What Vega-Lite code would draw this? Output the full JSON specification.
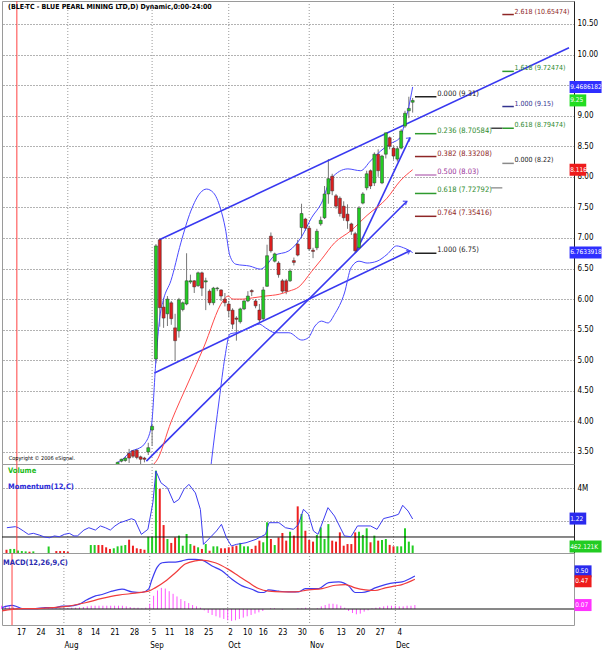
{
"$schema":"https://vega.github.io/schema/vega-lite/v6.json",
"padding":0,"background":"white","spacing":0,"bounds":"flush",
"resolve":{"scale":{"color":"independent"}},
"config":{"view":{"stroke":"#9a9a9a","strokeWidth":1},"axis":{"title":null},"font":"Liberation Sans Narrow, DejaVu Sans Condensed, Liberation Sans, sans-serif"},
"datasets":{
"days":[
{"date":"2006-07-10","i":-5,"v":200000,"up":false,"hist":0.05},
{"date":"2006-07-11","i":-4,"v":250000,"up":true,"hist":0.05},
{"date":"2006-07-12","i":-3,"v":250000,"up":true,"hist":0.04},
{"date":"2006-07-13","i":-2,"v":150000,"up":true,"hist":0.03},
{"date":"2006-07-14","i":-1,"v":120000,"up":true,"hist":0.02},
{"date":"2006-07-17","i":0,"v":100000,"up":true,"hist":0.01},
{"date":"2006-07-18","i":1,"v":80000,"up":false,"hist":0.005},
{"date":"2006-07-19","i":2,"v":100000,"up":true,"hist":0.005},
{"date":"2006-07-20","i":3,"up":true,"hist":0.005},
{"date":"2006-07-21","i":4,"up":true,"hist":0.005},
{"date":"2006-07-24","i":5,"up":true,"hist":0.005},
{"date":"2006-07-25","i":6,"v":400000,"up":true,"hist":0.01},
{"date":"2006-07-26","i":7,"up":true,"hist":0.01},
{"date":"2006-07-27","i":8,"v":120000,"up":false,"hist":0.01},
{"date":"2006-07-28","i":9,"v":120000,"up":false,"hist":0.01},
{"date":"2006-07-31","i":10,"v":120000,"up":false,"hist":0.01},
{"date":"2006-08-01","i":11,"v":80000,"up":false,"hist":0.015},
{"date":"2006-08-02","i":12,"up":true,"hist":0.015},
{"date":"2006-08-03","i":13,"up":true,"hist":0.02},
{"date":"2006-08-04","i":14,"up":true,"hist":0.02},
{"date":"2006-08-08","i":15,"up":true,"hist":0.025},
{"date":"2006-08-09","i":16,"up":true,"hist":0.03},
{"date":"2006-08-10","i":17,"v":490000,"up":true,"hist":0.04},
{"date":"2006-08-11","i":18,"v":490000,"up":true,"hist":0.05},
{"date":"2006-08-14","i":19,"v":490000,"up":false,"hist":0.05},
{"date":"2006-08-15","i":20,"v":490000,"up":false,"hist":0.05},
{"date":"2006-08-16","i":21,"v":350000,"up":false,"hist":0.05},
{"date":"2006-08-17","i":22,"v":250000,"up":false,"hist":0.05},
{"date":"2006-08-18","i":23,"v":290000,"up":true,"hist":0.05},
{"date":"2006-08-21","i":24,"o":3.28,"h":3.34,"l":3.25,"c":3.33,"v":410000,"up":true,"hist":0.05},
{"date":"2006-08-22","i":25,"o":3.35,"h":3.39,"l":3.33,"c":3.38,"v":450000,"up":true,"hist":0.05},
{"date":"2006-08-23","i":26,"o":3.36,"h":3.42,"l":3.34,"c":3.40,"v":490000,"up":true,"hist":0.05},
{"date":"2006-08-24","i":27,"o":3.48,"h":3.55,"l":3.32,"c":3.40,"v":820000,"up":false,"hist":0.04},
{"date":"2006-08-25","i":28,"o":3.52,"h":3.53,"l":3.40,"c":3.43,"v":450000,"up":false,"hist":0.03},
{"date":"2006-08-28","i":29,"o":3.53,"h":3.55,"l":3.38,"c":3.41,"v":290000,"up":false,"hist":0.02},
{"date":"2006-08-29","i":30,"o":3.42,"h":3.44,"l":3.30,"c":3.38,"v":250000,"up":false,"hist":0.02},
{"date":"2006-08-30","i":31,"o":3.40,"h":3.42,"l":3.33,"c":3.38,"v":200000,"up":false,"hist":0.01},
{"date":"2006-08-31","i":32,"o":3.50,"h":3.65,"l":3.45,"c":3.57,"v":1000000,"up":true,"hist":0.02},
{"date":"2006-09-01","i":33,"o":3.86,"h":3.95,"l":3.60,"c":3.92,"v":1000000,"up":true,"hist":0.08},
{"date":"2006-09-05","i":34,"o":5.02,"h":6.90,"l":4.95,"c":6.87,"v":5070000,"up":true,"hist":0.2},
{"date":"2006-09-06","i":35,"o":6.97,"h":6.99,"l":5.55,"c":5.86,"v":3940000,"up":false,"hist":0.28},
{"date":"2006-09-07","i":36,"o":5.87,"h":6.02,"l":5.53,"c":5.69,"v":1720000,"up":false,"hist":0.32},
{"date":"2006-09-08","i":37,"o":5.76,"h":6.05,"l":5.56,"c":6.00,"v":860000,"up":true,"hist":0.31},
{"date":"2006-09-11","i":38,"o":5.94,"h":5.97,"l":5.58,"c":5.68,"v":620000,"up":false,"hist":0.27},
{"date":"2006-09-12","i":39,"o":5.53,"h":5.76,"l":4.99,"c":5.32,"v":960000,"up":false,"hist":0.23},
{"date":"2006-09-13","i":40,"o":5.48,"h":6.02,"l":5.37,"c":5.99,"v":1070000,"up":true,"hist":0.19},
{"date":"2006-09-14","i":41,"o":5.83,"h":5.96,"l":5.80,"c":5.94,"v":450000,"up":true,"hist":0.15},
{"date":"2006-09-15","i":42,"o":5.92,"h":6.75,"l":5.90,"c":6.30,"v":1170000,"up":true,"hist":0.12},
{"date":"2006-09-18","i":43,"o":6.28,"h":6.40,"l":6.25,"c":6.30,"v":550000,"up":true,"hist":0.09},
{"date":"2006-09-19","i":44,"o":6.30,"h":6.31,"l":6.10,"c":6.20,"v":450000,"up":false,"hist":0.06},
{"date":"2006-09-20","i":45,"o":6.22,"h":6.45,"l":6.20,"c":6.43,"v":350000,"up":true,"hist":0.04},
{"date":"2006-09-21","i":46,"o":6.43,"h":6.45,"l":6.05,"c":6.18,"v":250000,"up":false,"hist":0.02},
{"date":"2006-09-22","i":47,"o":6.28,"h":6.35,"l":5.82,"c":6.30,"v":550000,"up":true,"hist":-0.02},
{"date":"2006-09-25","i":48,"o":6.13,"h":6.16,"l":5.90,"c":5.94,"v":140000,"up":false,"hist":-0.06},
{"date":"2006-09-26","i":49,"o":5.94,"h":6.20,"l":5.90,"c":6.18,"v":410000,"up":true,"hist":-0.09},
{"date":"2006-09-27","i":50,"o":6.17,"h":6.20,"l":6.13,"c":6.18,"v":410000,"up":true,"hist":-0.11},
{"date":"2006-09-28","i":51,"o":6.15,"h":6.16,"l":5.97,"c":6.05,"v":290000,"up":false,"hist":-0.13},
{"date":"2006-09-29","i":52,"o":6.00,"h":6.10,"l":5.88,"c":5.94,"v":290000,"up":false,"hist":-0.15},
{"date":"2006-10-02","i":53,"o":5.92,"h":5.97,"l":5.70,"c":5.81,"v":350000,"up":false,"hist":-0.17},
{"date":"2006-10-03","i":54,"o":5.82,"h":5.85,"l":5.51,"c":5.59,"v":410000,"up":false,"hist":-0.18},
{"date":"2006-10-04","i":55,"o":5.69,"h":5.72,"l":5.32,"c":5.67,"v":450000,"up":false,"hist":-0.17},
{"date":"2006-10-05","i":56,"o":5.63,"h":5.86,"l":5.60,"c":5.84,"v":620000,"up":true,"hist":-0.15},
{"date":"2006-10-06","i":57,"o":5.84,"h":5.98,"l":5.82,"c":5.97,"v":410000,"up":true,"hist":-0.13},
{"date":"2006-10-10","i":58,"o":5.97,"h":6.13,"l":5.95,"c":6.05,"v":410000,"up":true,"hist":-0.11},
{"date":"2006-10-11","i":59,"o":6.14,"h":6.16,"l":6.05,"c":6.12,"v":250000,"up":false,"hist":-0.09},
{"date":"2006-10-12","i":60,"o":5.97,"h":6.00,"l":5.85,"c":5.89,"v":450000,"up":false,"hist":-0.07},
{"date":"2006-10-13","i":61,"o":5.82,"h":5.92,"l":5.60,"c":5.66,"v":760000,"up":false,"hist":-0.05},
{"date":"2006-10-16","i":62,"o":5.68,"h":6.20,"l":5.65,"c":6.15,"v":660000,"up":true,"hist":-0.03},
{"date":"2006-10-17","i":63,"o":6.21,"h":6.89,"l":6.20,"c":6.71,"v":1890000,"up":true,"hist":0.0},
{"date":"2006-10-18","i":64,"o":7.03,"h":7.09,"l":6.76,"c":6.79,"v":860000,"up":false,"hist":0.01},
{"date":"2006-10-19","i":65,"o":6.62,"h":6.76,"l":6.60,"c":6.74,"v":490000,"up":true,"hist":0.01},
{"date":"2006-10-20","i":66,"o":6.59,"h":6.62,"l":6.35,"c":6.40,"v":960000,"up":false,"hist":0.0},
{"date":"2006-10-23","i":67,"o":6.30,"h":6.33,"l":6.10,"c":6.13,"v":1230000,"up":false,"hist":-0.01},
{"date":"2006-10-24","i":68,"o":6.30,"h":6.33,"l":6.08,"c":6.13,"v":760000,"up":false,"hist":0.0},
{"date":"2006-10-25","i":69,"o":6.30,"h":6.50,"l":6.28,"c":6.46,"v":1310000,"up":true,"hist":0.0},
{"date":"2006-10-26","i":70,"o":6.63,"h":6.68,"l":6.55,"c":6.60,"v":1070000,"up":false,"hist":0.0},
{"date":"2006-10-27","i":71,"o":6.90,"h":6.97,"l":6.70,"c":6.72,"v":2870000,"up":false,"hist":0.01},
{"date":"2006-10-30","i":72,"o":7.17,"h":7.56,"l":7.00,"c":7.40,"v":2400000,"up":true,"hist":0.01},
{"date":"2006-10-31","i":73,"o":7.31,"h":7.33,"l":7.12,"c":7.16,"v":1370000,"up":false,"hist":0.02},
{"date":"2006-11-01","i":74,"o":7.16,"h":7.20,"l":6.79,"c":6.82,"v":800000,"up":false,"hist":0.01},
{"date":"2006-11-02","i":75,"o":6.80,"h":6.84,"l":6.67,"c":6.78,"v":700000,"up":false,"hist":0.0},
{"date":"2006-11-03","i":76,"o":6.84,"h":7.15,"l":6.80,"c":7.11,"v":1110000,"up":true,"hist":0.01},
{"date":"2006-11-06","i":77,"o":7.23,"h":7.35,"l":7.20,"c":7.29,"v":1580000,"up":true,"hist":0.04},
{"date":"2006-11-07","i":78,"o":7.33,"h":7.85,"l":7.31,"c":7.72,"v":860000,"up":true,"hist":0.06},
{"date":"2006-11-08","i":79,"o":7.72,"h":8.29,"l":7.56,"c":7.97,"v":1780000,"up":true,"hist":0.08},
{"date":"2006-11-09","i":80,"o":8.01,"h":8.05,"l":7.70,"c":7.77,"v":760000,"up":false,"hist":0.08},
{"date":"2006-11-10","i":81,"o":7.69,"h":7.72,"l":7.48,"c":7.52,"v":700000,"up":false,"hist":0.07},
{"date":"2006-11-13","i":82,"o":7.65,"h":7.68,"l":7.35,"c":7.40,"v":1270000,"up":false,"hist":0.05},
{"date":"2006-11-14","i":83,"o":7.52,"h":7.60,"l":7.28,"c":7.33,"v":450000,"up":false,"hist":0.02},
{"date":"2006-11-15","i":84,"o":7.39,"h":7.55,"l":7.15,"c":7.28,"v":550000,"up":false,"hist":-0.03},
{"date":"2006-11-16","i":85,"o":7.23,"h":7.25,"l":7.05,"c":7.11,"v":550000,"up":false,"hist":-0.06},
{"date":"2006-11-17","i":86,"o":7.07,"h":7.10,"l":6.75,"c":6.79,"v":1270000,"up":false,"hist":-0.08},
{"date":"2006-11-20","i":87,"o":6.84,"h":7.52,"l":6.82,"c":7.49,"v":1310000,"up":true,"hist":-0.07},
{"date":"2006-11-21","i":88,"o":7.57,"h":7.75,"l":7.55,"c":7.72,"v":1110000,"up":true,"hist":-0.04},
{"date":"2006-11-22","i":89,"o":7.82,"h":8.10,"l":7.78,"c":8.05,"v":1520000,"up":true,"hist":-0.02},
{"date":"2006-11-23","i":90,"o":8.10,"h":8.12,"l":7.80,"c":7.85,"v":660000,"up":false,"hist":0.01},
{"date":"2006-11-24","i":91,"o":7.90,"h":8.40,"l":7.85,"c":8.37,"v":1070000,"up":true,"hist":0.02},
{"date":"2006-11-27","i":92,"o":8.37,"h":8.45,"l":8.00,"c":8.10,"v":760000,"up":false,"hist":0.03},
{"date":"2006-11-28","i":93,"o":7.90,"h":8.36,"l":7.88,"c":8.34,"v":800000,"up":true,"hist":0.04},
{"date":"2006-11-29","i":94,"o":8.37,"h":8.72,"l":8.30,"c":8.72,"v":860000,"up":true,"hist":0.05},
{"date":"2006-11-30","i":95,"o":8.64,"h":8.66,"l":8.45,"c":8.50,"v":500000,"up":false,"hist":0.05},
{"date":"2006-12-01","i":96,"o":8.47,"h":8.50,"l":8.28,"c":8.34,"v":410000,"up":false,"hist":0.05},
{"date":"2006-12-04","i":97,"o":8.29,"h":8.50,"l":8.25,"c":8.46,"v":410000,"up":true,"hist":0.04},
{"date":"2006-12-05","i":98,"o":8.47,"h":8.78,"l":8.45,"c":8.75,"v":410000,"up":true,"hist":0.04},
{"date":"2006-12-06","i":99,"o":8.83,"h":9.08,"l":8.80,"c":9.04,"v":1520000,"up":true,"hist":0.05},
{"date":"2006-12-07","i":100,"o":9.08,"h":9.31,"l":8.96,"c":9.12,"v":700000,"up":true,"hist":0.05},
{"date":"2006-12-08","i":101,"o":9.22,"h":9.29,"l":9.05,"c":9.25,"v":462121,"up":true,"hist":0.06}
],
"bands":[
{"band":"upper","i":24,"p":3.33},{"band":"upper","i":25.1,"p":3.37},{"band":"upper","i":27.7,"p":3.52},{"band":"upper","i":29.2,"p":3.55},{"band":"upper","i":31.0,"p":3.63},{"band":"upper","i":32.8,"p":3.92},{"band":"upper","i":34,"p":5.0},{"band":"upper","i":35,"p":5.7},{"band":"upper","i":36,"p":6.0},{"band":"upper","i":37.9,"p":6.3},{"band":"upper","i":40.5,"p":6.92},{"band":"upper","i":43.1,"p":7.44},{"band":"upper","i":45.6,"p":7.74},{"band":"upper","i":47.2,"p":7.80},{"band":"upper","i":49.0,"p":7.74},{"band":"upper","i":50.8,"p":7.49},{"band":"upper","i":52.1,"p":7.16},{"band":"upper","i":53.3,"p":6.71},{"band":"upper","i":54.9,"p":6.57},{"band":"upper","i":58.5,"p":6.54},{"band":"upper","i":61.3,"p":6.49},{"band":"upper","i":62.6,"p":6.54},{"band":"upper","i":64.9,"p":6.71},{"band":"upper","i":68.7,"p":6.79},{"band":"upper","i":72.1,"p":7.03},{"band":"upper","i":74.6,"p":7.33},{"band":"upper","i":77.2,"p":7.57},{"band":"upper","i":79.7,"p":7.97},{"band":"upper","i":84.1,"p":8.13},{"band":"upper","i":87.4,"p":8.10},{"band":"upper","i":90.0,"p":8.26},{"band":"upper","i":92.6,"p":8.42},{"band":"upper","i":95.1,"p":8.54},{"band":"upper","i":97.7,"p":8.64},{"band":"upper","i":99,"p":8.90},{"band":"upper","i":100,"p":9.15},{"band":"upper","i":101,"p":9.47},
{"band":"lower","i":30,"p":3.15},{"band":"lower","i":33,"p":3.2},{"band":"lower","i":35,"p":2.4},{"band":"lower","i":40,"p":1.6},{"band":"lower","i":45,"p":1.4},{"band":"lower","i":47,"p":2.5},{"band":"lower","i":48.5,"p":3.35},{"band":"lower","i":50.5,"p":4.35},{"band":"lower","i":52,"p":5.05},{"band":"lower","i":53.3,"p":5.43},{"band":"lower","i":54.9,"p":5.45},{"band":"lower","i":58.5,"p":5.53},{"band":"lower","i":61.0,"p":5.59},{"band":"lower","i":62.6,"p":5.53},{"band":"lower","i":65.1,"p":5.45},{"band":"lower","i":68.7,"p":5.45},{"band":"lower","i":72.1,"p":5.33},{"band":"lower","i":73.8,"p":5.37},{"band":"lower","i":75.5,"p":5.56},{"band":"lower","i":77.2,"p":5.64},{"band":"lower","i":78.9,"p":5.61},{"band":"lower","i":80.6,"p":5.75},{"band":"lower","i":83.2,"p":6.1},{"band":"lower","i":84.9,"p":6.51},{"band":"lower","i":87.0,"p":6.62},{"band":"lower","i":89.1,"p":6.59},{"band":"lower","i":91.7,"p":6.62},{"band":"lower","i":94.3,"p":6.73},{"band":"lower","i":96.8,"p":6.87},{"band":"lower","i":98.6,"p":6.84},{"band":"lower","i":100.3,"p":6.79},{"band":"lower","i":101,"p":6.76},
{"band":"ma","i":28,"p":3.1},{"band":"ma","i":34.1,"p":3.35},{"band":"ma","i":38,"p":4.0},{"band":"ma","i":42.6,"p":4.66},{"band":"ma","i":46.4,"p":5.20},{"band":"ma","i":51.5,"p":5.97},{"band":"ma","i":52.8,"p":6.05},{"band":"ma","i":54.1,"p":6.00},{"band":"ma","i":56.7,"p":6.00},{"band":"ma","i":59.2,"p":6.02},{"band":"ma","i":62.6,"p":6.05},{"band":"ma","i":66.2,"p":6.08},{"band":"ma","i":68.7,"p":6.13},{"band":"ma","i":71.3,"p":6.2},{"band":"ma","i":74.6,"p":6.45},{"band":"ma","i":77.2,"p":6.65},{"band":"ma","i":80.6,"p":6.92},{"band":"ma","i":84.9,"p":7.12},{"band":"ma","i":89.1,"p":7.37},{"band":"ma","i":94.3,"p":7.65},{"band":"ma","i":97.7,"p":7.93},{"band":"ma","i":101,"p":8.116}
],
"trend":[
{"line":"channelTop","pt":"start","i":34.9,"p":6.97},{"line":"channelTop","pt":"edge","i":141.8,"p":10.11},
{"line":"channelBottom","pt":"start","i":33.6,"p":4.79},{"line":"channelBottom","pt":"end","i":100.3,"p":6.79},
{"line":"fan","pt":"start","i":31.5,"p":3.35},{"line":"fan","pt":"end","i":99.5,"p":7.60},
{"line":"steep","pt":"start","i":86.2,"p":6.77},{"line":"steep","pt":"end","i":100.3,"p":8.64}
],
"fib":[
{"set":"L","key":"black","p":9.31,"label":"0.000 (9.31)"},
{"set":"L","key":"green","p":8.70584,"label":"0.236 (8.70584)"},
{"set":"L","key":"darkred","p":8.33208,"label":"0.382 (8.33208)"},
{"set":"L","key":"purple","p":8.03,"label":"0.500 (8.03)"},
{"set":"L","key":"green","p":7.72792,"label":"0.618 (7.72792)"},
{"set":"L","key":"darkred","p":7.35416,"label":"0.764 (7.35416)"},
{"set":"L","key":"black","p":6.75,"label":"1.000 (6.75)"},
{"set":"R","key":"darkred","p":10.65474,"label":"2.618 (10.65474)"},
{"set":"R","key":"green","p":9.72474,"label":"1.618 (9.72474)"},
{"set":"R","key":"navy","p":9.15,"label":"1.000 (9.15)"},
{"set":"R","key":"green","p":8.79474,"label":"0.618 (8.79474)"},
{"set":"R","key":"gray","p":8.22,"label":"0.000 (8.22)"},
{"set":"M","key":"black","p":8.79474,"label":""},
{"set":"M","key":"gray","p":7.82,"label":""}
],
"mom":[
{"i":-4.9,"m":0.63},{"i":-2.7,"m":0.70},{"i":-1.9,"m":0.63},{"i":-0.6,"m":0.41},{"i":0.7,"m":0.18},{"i":2.0,"m":0.25},{"i":3.7,"m":0.12},{"i":4.9,"m":0.0},{"i":6.2,"m":-0.05},{"i":7.5,"m":0.07},{"i":8.8,"m":0.02},{"i":10.1,"m":0.18},{"i":11.4,"m":0.25},{"i":12.6,"m":0.07},{"i":13.5,"m":0.07},{"i":15.2,"m":0.47},{"i":16.5,"m":0.63},{"i":18.2,"m":0.47},{"i":19.5,"m":0.75},{"i":20.8,"m":0.63},{"i":22.1,"m":0.47},{"i":23.3,"m":0.75},{"i":24.6,"m":0.97},{"i":25.9,"m":1.08},{"i":27.6,"m":1.24},{"i":28.5,"m":1.15},{"i":30.2,"m":0.18},{"i":31.9,"m":0.52},{"i":33.2,"m":2.32},{"i":34.0,"m":4.47},{"i":35.3,"m":3.68},{"i":37.0,"m":3.34},{"i":38.7,"m":2.32},{"i":40.0,"m":2.55},{"i":41.3,"m":3.23},{"i":42.6,"m":3.57},{"i":44.3,"m":2.99},{"i":45.6,"m":1.87},{"i":46.4,"m":-0.5},{"i":48.1,"m":-0.05},{"i":49.8,"m":0.41},{"i":51.1,"m":0.86},{"i":52.4,"m":-0.05},{"i":53.7,"m":-0.61},{"i":55.0,"m":-0.5},{"i":57.5,"m":-0.39},{"i":60.1,"m":-0.16},{"i":62.6,"m":0.18},{"i":63.5,"m":0.97},{"i":66.1,"m":0.97},{"i":67.8,"m":0.63},{"i":69.9,"m":0.52},{"i":71.2,"m":0.86},{"i":72.5,"m":1.88},{"i":73.8,"m":1.54},{"i":75.1,"m":0.41},{"i":76.3,"m":0.18},{"i":78.9,"m":1.99},{"i":80.6,"m":1.42},{"i":83.2,"m":0.07},{"i":84.9,"m":0.02},{"i":86.6,"m":0.75},{"i":88.3,"m":0.75},{"i":90.0,"m":0.75},{"i":91.7,"m":0.52},{"i":93.4,"m":1.25},{"i":96.0,"m":1.42},{"i":97.3,"m":1.54},{"i":98.4,"m":2.15},{"i":99.8,"m":1.76},{"i":101,"m":1.22}
],
"macd":[
{"s":"macd","i":-4.9,"v":0.02},{"s":"macd","i":-3.6,"v":0.045},{"s":"macd","i":-2.3,"v":0.056},{"s":"macd","i":-1.0,"v":0.035},{"s":"macd","i":0.3,"v":0.005},{"s":"macd","i":3.7,"v":0.005},{"s":"macd","i":6.2,"v":0.02},{"s":"macd","i":8.8,"v":0.02},{"s":"macd","i":10.5,"v":0.045},{"s":"macd","i":12.2,"v":0.045},{"s":"macd","i":14.8,"v":0.07},{"s":"macd","i":16.9,"v":0.14},{"s":"macd","i":19.1,"v":0.2},{"s":"macd","i":20.8,"v":0.22},{"s":"macd","i":23.3,"v":0.27},{"s":"macd","i":25.9,"v":0.3},{"s":"macd","i":28.5,"v":0.26},{"s":"macd","i":31.0,"v":0.25},{"s":"macd","i":32.7,"v":0.3},{"s":"macd","i":33.6,"v":0.45},{"s":"macd","i":34.9,"v":0.63},{"s":"macd","i":36.2,"v":0.7},{"s":"macd","i":37.9,"v":0.71},{"s":"macd","i":39.6,"v":0.71},{"s":"macd","i":41.3,"v":0.73},{"s":"macd","i":43.0,"v":0.75},{"s":"macd","i":44.7,"v":0.75},{"s":"macd","i":46.4,"v":0.74},{"s":"macd","i":49.0,"v":0.65},{"s":"macd","i":51.5,"v":0.58},{"s":"macd","i":54.1,"v":0.45},{"s":"macd","i":56.7,"v":0.35},{"s":"macd","i":59.2,"v":0.30},{"s":"macd","i":61.4,"v":0.25},{"s":"macd","i":62.2,"v":0.25},{"s":"macd","i":63.5,"v":0.29},{"s":"macd","i":66.1,"v":0.27},{"s":"macd","i":68.6,"v":0.26},{"s":"macd","i":71.2,"v":0.26},{"s":"macd","i":72.9,"v":0.31},{"s":"macd","i":76.3,"v":0.31},{"s":"macd","i":78.9,"v":0.40},{"s":"macd","i":81.5,"v":0.41},{"s":"macd","i":84.0,"v":0.35},{"s":"macd","i":85.7,"v":0.25},{"s":"macd","i":87.4,"v":0.25},{"s":"macd","i":89.1,"v":0.27},{"s":"macd","i":90.8,"v":0.32},{"s":"macd","i":93.4,"v":0.37},{"s":"macd","i":96.0,"v":0.40},{"s":"macd","i":97.7,"v":0.41},{"s":"macd","i":99.4,"v":0.45},{"s":"macd","i":101,"v":0.50},
{"s":"signal","i":-4.9,"v":-0.03},{"s":"signal","i":-2.3,"v":-0.005},{"s":"signal","i":0.3,"v":0.005},{"s":"signal","i":3.7,"v":0.005},{"s":"signal","i":7.9,"v":0.02},{"s":"signal","i":12.2,"v":0.045},{"s":"signal","i":16.5,"v":0.095},{"s":"signal","i":20.8,"v":0.16},{"s":"signal","i":25.0,"v":0.21},{"s":"signal","i":29.3,"v":0.24},{"s":"signal","i":32.7,"v":0.27},{"s":"signal","i":34.4,"v":0.32},{"s":"signal","i":37.0,"v":0.42},{"s":"signal","i":39.6,"v":0.55},{"s":"signal","i":42.1,"v":0.68},{"s":"signal","i":44.7,"v":0.73},{"s":"signal","i":46.4,"v":0.74},{"s":"signal","i":49.8,"v":0.70},{"s":"signal","i":53.2,"v":0.60},{"s":"signal","i":55.8,"v":0.50},{"s":"signal","i":58.4,"v":0.40},{"s":"signal","i":60.9,"v":0.31},{"s":"signal","i":63.5,"v":0.27},{"s":"signal","i":66.9,"v":0.26},{"s":"signal","i":70.3,"v":0.26},{"s":"signal","i":73.8,"v":0.29},{"s":"signal","i":77.2,"v":0.31},{"s":"signal","i":80.6,"v":0.36},{"s":"signal","i":83.2,"v":0.37},{"s":"signal","i":85.7,"v":0.32},{"s":"signal","i":88.3,"v":0.29},{"s":"signal","i":90.8,"v":0.28},{"s":"signal","i":93.4,"v":0.32},{"s":"signal","i":96.0,"v":0.35},{"s":"signal","i":97.7,"v":0.37},{"s":"signal","i":101,"v":0.45}
],
"months":[{"i":11,"m":"Aug"},{"i":33,"m":"Sep"},{"i":53,"m":"Oct"},{"i":74,"m":"Nov"},{"i":96,"m":"Dec"}],
"ptags":[{"label":"9.4686182","p":9.4686,"k":"upper"},{"label":"9.25","p":9.25,"k":"close"},{"label":"8.116","p":8.116,"k":"ma"},{"label":"6.7633918","p":6.7634,"k":"lower"}],
"vtags":[{"label":"462.121K","v":400000}],
"mtags":[{"label":"1.22","m":1.25}],
"ctags":[{"label":"0.50","v":0.57,"k":"macd"},{"label":"0.47","v":0.42,"k":"signal"},{"label":"0.07","v":0.06,"k":"hist"}]
},
"vconcat":[
{
"width":572,"height":463,
"resolve":{"scale":{"y":"independent","color":"independent"}},
"layer":[
{"data":{"name":"months"},"mark":{"type":"rule","stroke":"#999","strokeDash":[1,2]},
 "encoding":{"x":{"field":"i","type":"quantitative","scale":{"domain":[-4.87,141.8],"nice":false,"zero":false},"axis":null}}},
{"data":{"name":"days"},"transform":[{"filter":"isValid(datum.o)"}],
 "mark":{"type":"rule","stroke":"#777","strokeWidth":1,"clip":true},
 "encoding":{"x":{"field":"i","type":"quantitative","scale":{"domain":[-4.87,141.8],"nice":false,"zero":false},"axis":null},
 "y":{"field":"l","type":"quantitative","scale":{"domain":[3.303,10.876],"nice":false,"zero":false},
  "axis":{"orient":"right","values":[3.5,4,4.5,5,5.5,6,6.5,7,7.5,8,8.5,9,9.5,10,10.5],"labelExpr":"datum.value == 9.5 ? '' : format(datum.value, '.2f')","grid":true,"gridColor":"#666","gridDash":[1,2],"ticks":false,"domainColor":"#222","labelPadding":3,"labelFontSize":8,"labelColor":"#000"}},
 "y2":{"field":"h"}}},
{"data":{"name":"trend"},"mark":{"type":"line","stroke":"#3838f0","strokeWidth":1.6,"clip":true},
 "encoding":{"x":{"field":"i","type":"quantitative","scale":{"domain":[-4.87,141.8],"nice":false,"zero":false},"axis":null},
 "y":{"field":"p","type":"quantitative","scale":{"domain":[3.303,10.876],"nice":false,"zero":false},"axis":null},
 "detail":{"field":"line"}}},
{"data":{"name":"trend"},"transform":[{"filter":"datum.pt == 'end'"}],
 "mark":{"type":"point","shape":"M -1 -0.7 L 0 0 L -1 0.7","filled":false,"stroke":"#3838f0","strokeWidth":1.3,"size":45},
 "encoding":{"x":{"field":"i","type":"quantitative","scale":{"domain":[-4.87,141.8],"nice":false,"zero":false},"axis":null},
 "y":{"field":"p","type":"quantitative","scale":{"domain":[3.303,10.876],"nice":false,"zero":false},"axis":null},
 "angle":{"field":"line","type":"nominal","scale":{"domain":["channelBottom","fan","steep"],"range":[335,316,296]},"legend":null}}},
{"data":{"name":"bands"},"mark":{"type":"line","strokeWidth":1,"interpolate":"monotone","clip":true},
 "encoding":{"x":{"field":"i","type":"quantitative","scale":{"domain":[-4.87,141.8],"nice":false,"zero":false},"axis":null},
 "y":{"field":"p","type":"quantitative","scale":{"domain":[3.303,10.876],"nice":false,"zero":false},"axis":null},
 "color":{"field":"band","type":"nominal","scale":{"domain":["upper","lower","ma"],"range":["#4a4aff","#4a4aff","#ff4a4a"]},"legend":null}}},
{"data":{"name":"days"},"transform":[{"filter":"isValid(datum.o)"}],
 "mark":{"type":"bar","width":3,"stroke":"#333","strokeWidth":0.5,"clip":true},
 "encoding":{"x":{"field":"i","type":"quantitative","scale":{"domain":[-4.87,141.8],"nice":false,"zero":false},"axis":null},
 "y":{"field":"o","type":"quantitative","scale":{"domain":[3.303,10.876],"nice":false,"zero":false},"axis":null},
 "y2":{"field":"c"},
 "fill":{"condition":{"test":"datum.up","value":"#22cc22"},"value":"#dd1f1f"}}},
{"data":{"name":"fib"},"transform":[{"filter":"datum.set == 'L'"}],
 "mark":{"type":"rule","strokeWidth":1.5},
 "encoding":{"x":{"datum":101.6,"type":"quantitative","scale":{"domain":[-4.87,141.8],"nice":false,"zero":false},"axis":null},"x2":{"datum":107.2},
 "y":{"field":"p","type":"quantitative","scale":{"domain":[3.303,10.876],"nice":false,"zero":false},"axis":null},
 "color":{"field":"key","type":"nominal","scale":{"domain":["black","green","darkred","purple","navy","gray"],"range":["#222222","#2e9a2e","#8e2626","#c080c0","#33338f","#8a8a8a"]},"legend":null}}},
{"data":{"name":"fib"},"transform":[{"filter":"datum.set == 'R'"}],
 "mark":{"type":"rule","strokeWidth":1.5},
 "encoding":{"x":{"datum":124.4,"type":"quantitative","scale":{"domain":[-4.87,141.8],"nice":false,"zero":false},"axis":null},"x2":{"datum":127.4},
 "y":{"field":"p","type":"quantitative","scale":{"domain":[3.303,10.876],"nice":false,"zero":false},"axis":null},
 "color":{"field":"key","type":"nominal","scale":{"domain":["black","green","darkred","purple","navy","gray"],"range":["#222222","#2e9a2e","#8e2626","#c080c0","#33338f","#8a8a8a"]},"legend":null}}},
{"data":{"name":"fib"},"transform":[{"filter":"datum.set == 'M'"}],
 "mark":{"type":"rule","strokeWidth":1.5},
 "encoding":{"x":{"datum":121.5,"type":"quantitative","scale":{"domain":[-4.87,141.8],"nice":false,"zero":false},"axis":null},"x2":{"datum":124.4},
 "y":{"field":"p","type":"quantitative","scale":{"domain":[3.303,10.876],"nice":false,"zero":false},"axis":null},
 "color":{"field":"key","type":"nominal","scale":{"domain":["black","gray"],"range":["#444444","#9a9a9a"]},"legend":null}}},
{"data":{"name":"fib"},"transform":[{"filter":"datum.set == 'L'"}],
 "mark":{"type":"text","align":"left","baseline":"alphabetic","dy":-1,"fontSize":7.5},
 "encoding":{"x":{"datum":107.4,"type":"quantitative","scale":{"domain":[-4.87,141.8],"nice":false,"zero":false},"axis":null},
 "y":{"field":"p","type":"quantitative","scale":{"domain":[3.303,10.876],"nice":false,"zero":false},"axis":null},
 "text":{"field":"label"},
 "color":{"field":"key","type":"nominal","scale":{"domain":["black","green","darkred","purple","navy","gray"],"range":["#222222","#2e8a2e","#8e2626","#993399","#33338f","#222222"]},"legend":null}}},
{"data":{"name":"fib"},"transform":[{"filter":"datum.set == 'R'"}],
 "mark":{"type":"text","align":"left","baseline":"alphabetic","dy":-1,"fontSize":7},
 "encoding":{"x":{"datum":127.6,"type":"quantitative","scale":{"domain":[-4.87,141.8],"nice":false,"zero":false},"axis":null},
 "y":{"field":"p","type":"quantitative","scale":{"domain":[3.303,10.876],"nice":false,"zero":false},"axis":null},
 "text":{"field":"label"},
 "color":{"field":"key","type":"nominal","scale":{"domain":["black","green","darkred","purple","navy","gray"],"range":["#222222","#2e8a2e","#8e2626","#993399","#33338f","#222222"]},"legend":null}}},
{"data":{"values":[{}]},"mark":{"type":"rule","stroke":"#ff4040","strokeWidth":1},
 "encoding":{"x":{"datum":-2.3,"type":"quantitative","scale":{"domain":[-4.87,141.8],"nice":false,"zero":false},"axis":null}}},
{"data":{"name":"ptags"},"transform":[{"filter":"length(datum.label) > 6"}],
 "mark":{"type":"rule","strokeWidth":12},
 "encoding":{"x":{"datum":141.95,"type":"quantitative","scale":{"domain":[-4.87,141.8],"nice":false,"zero":false},"axis":null},"x2":{"datum":150.3},
 "y":{"field":"p","type":"quantitative","scale":{"domain":[3.303,10.876],"nice":false,"zero":false},"axis":null},
 "color":{"field":"k","type":"nominal","scale":{"domain":["upper","close","ma","lower"],"range":["#2f2fff","#22dd22","#ee1c1c","#2f2fff"]},"legend":null}}},
{"data":{"name":"ptags"},"transform":[{"filter":"length(datum.label) <= 6"}],
 "mark":{"type":"rule","strokeWidth":12},
 "encoding":{"x":{"datum":141.95,"type":"quantitative","scale":{"domain":[-4.87,141.8],"nice":false,"zero":false},"axis":null},"x2":{"datum":146.3},
 "y":{"field":"p","type":"quantitative","scale":{"domain":[3.303,10.876],"nice":false,"zero":false},"axis":null},
 "color":{"field":"k","type":"nominal","scale":{"domain":["upper","close","ma","lower"],"range":["#2f2fff","#22dd22","#ee1c1c","#2f2fff"]},"legend":null}}},
{"data":{"name":"ptags"},
 "mark":{"type":"text","align":"left","baseline":"middle","fontSize":6.5,"color":"white"},
 "encoding":{"x":{"datum":142.1,"type":"quantitative","scale":{"domain":[-4.87,141.8],"nice":false,"zero":false},"axis":null},
 "y":{"field":"p","type":"quantitative","scale":{"domain":[3.303,10.876],"nice":false,"zero":false},"axis":null},
 "text":{"field":"label"}}},
{"data":{"values":[{"t":"(BLE-TC - BLUE PEARL MINING LTD,D) Dynamic,0:00-24:00"}]},
 "mark":{"type":"text","align":"left","baseline":"middle","fontSize":7,"fontWeight":"bold","color":"#000"},
 "encoding":{"x":{"datum":-4.6,"type":"quantitative","scale":{"domain":[-4.87,141.8],"nice":false,"zero":false},"axis":null},
 "y":{"datum":10.78,"type":"quantitative","scale":{"domain":[3.303,10.876],"nice":false,"zero":false},"axis":null},
 "text":{"field":"t"}}},
{"data":{"values":[{"t":"Copyright © 2006 eSignal."}]},
 "mark":{"type":"text","align":"left","baseline":"middle","fontSize":5.5,"color":"#000"},
 "encoding":{"x":{"datum":-4.4,"type":"quantitative","scale":{"domain":[-4.87,141.8],"nice":false,"zero":false},"axis":null},
 "y":{"datum":3.4,"type":"quantitative","scale":{"domain":[3.303,10.876],"nice":false,"zero":false},"axis":null},
 "text":{"field":"t"}}}
]
},
{
"width":572,"height":89,
"resolve":{"scale":{"y":"independent","color":"independent"}},
"layer":[
{"data":{"name":"months"},"mark":{"type":"rule","stroke":"#999","strokeDash":[1,2]},
 "encoding":{"x":{"field":"i","type":"quantitative","scale":{"domain":[-4.87,141.8],"nice":false,"zero":false},"axis":null}}},
{"data":{"name":"days"},"transform":[{"filter":"isValid(datum.v)"}],
 "mark":{"type":"bar","width":2},
 "encoding":{"x":{"field":"i","type":"quantitative","scale":{"domain":[-4.87,141.8],"nice":false,"zero":false},"axis":null},
 "y":{"field":"v","type":"quantitative","scale":{"domain":[0,5477000],"nice":false,"zero":false},
  "axis":{"orient":"right","values":[2000000,4000000],"labelExpr":"datum.value == 4000000 ? '4M' : ''","grid":true,"gridColor":"#666","gridDash":[1,2],"ticks":false,"domainColor":"#222","labelPadding":3,"labelFontSize":8,"labelColor":"#000"}},
 "fill":{"condition":{"test":"datum.up","value":"#22cc22"},"value":"#ee2020"}}},
{"data":{"values":[{}]},"mark":{"type":"rule","stroke":"#111","strokeWidth":1},
 "encoding":{"y":{"datum":0,"type":"quantitative","scale":{"domain":[-1.085,4.95],"nice":false,"zero":false},"axis":null}}},
{"data":{"name":"mom"},"mark":{"type":"line","stroke":"#3c3cf0","strokeWidth":1,"clip":true},
 "encoding":{"x":{"field":"i","type":"quantitative","scale":{"domain":[-4.87,141.8],"nice":false,"zero":false},"axis":null},
 "y":{"field":"m","type":"quantitative","scale":{"domain":[-1.085,4.95],"nice":false,"zero":false},"axis":null}}},
{"data":{"values":[{}]},"mark":{"type":"rule","stroke":"#ff4040","strokeWidth":1},
 "encoding":{"x":{"datum":-2.3,"type":"quantitative","scale":{"domain":[-4.87,141.8],"nice":false,"zero":false},"axis":null}}},
{"data":{"values":[{"t":"Volume","v":5046000},{"t":"Momentum(12,C)","v":4060000}]},
 "mark":{"type":"text","align":"left","baseline":"middle","fontSize":7.5,"fontWeight":"bold"},
 "encoding":{"x":{"datum":-4.6,"type":"quantitative","scale":{"domain":[-4.87,141.8],"nice":false,"zero":false},"axis":null},
 "y":{"field":"v","type":"quantitative","scale":{"domain":[0,5477000],"nice":false,"zero":false},"axis":null},
 "text":{"field":"t"},
 "color":{"field":"t","type":"nominal","scale":{"domain":["Volume","Momentum(12,C)"],"range":["#22bb22","#2b2bd8"]},"legend":null}}},
{"data":{"name":"mtags"},"mark":{"type":"rule","strokeWidth":12,"stroke":"#2a2aee"},
 "encoding":{"x":{"datum":141.95,"type":"quantitative","scale":{"domain":[-4.87,141.8],"nice":false,"zero":false},"axis":null},"x2":{"datum":146.3},
 "y":{"field":"m","type":"quantitative","scale":{"domain":[-1.085,4.95],"nice":false,"zero":false},"axis":null}}},
{"data":{"name":"mtags"},"mark":{"type":"text","align":"left","baseline":"middle","fontSize":6.5,"color":"white"},
 "encoding":{"x":{"datum":142.1,"type":"quantitative","scale":{"domain":[-4.87,141.8],"nice":false,"zero":false},"axis":null},
 "y":{"field":"m","type":"quantitative","scale":{"domain":[-1.085,4.95],"nice":false,"zero":false},"axis":null},
 "text":{"field":"label"}}},
{"data":{"name":"vtags"},"mark":{"type":"rule","strokeWidth":12,"stroke":"#22cc22"},
 "encoding":{"x":{"datum":141.95,"type":"quantitative","scale":{"domain":[-4.87,141.8],"nice":false,"zero":false},"axis":null},"x2":{"datum":150.3},
 "y":{"field":"v","type":"quantitative","scale":{"domain":[0,5477000],"nice":false,"zero":false},"axis":null}}},
{"data":{"name":"vtags"},"mark":{"type":"text","align":"left","baseline":"middle","fontSize":6.5,"color":"white"},
 "encoding":{"x":{"datum":142.1,"type":"quantitative","scale":{"domain":[-4.87,141.8],"nice":false,"zero":false},"axis":null},
 "y":{"field":"v","type":"quantitative","scale":{"domain":[0,5477000],"nice":false,"zero":false},"axis":null},
 "text":{"field":"label"}}}
]
},
{
"width":572,"height":72,
"resolve":{"scale":{"x":"independent","color":"independent"}},
"layer":[
{"data":{"name":"months"},"mark":{"type":"rule","stroke":"#999","strokeDash":[1,2]},
 "encoding":{"x":{"field":"i","type":"quantitative","scale":{"domain":[-4.87,141.8],"nice":false,"zero":false},
  "axis":{"orient":"bottom","values":[0,5,10,11,15,19,24,29,33,34,38,43,48,53,58,62,67,72,74,77,82,87,92,96,97],
  "labelExpr":"['17','24','31',['','Aug'],'8','14','21','28',['','Sep'],'5','11','18','25',['2','Oct'],'10','16','23','30',['','Nov'],'6','13','20','27',['','Dec'],'4'][indexof([0,5,10,11,15,19,24,29,33,34,38,43,48,53,58,62,67,72,74,77,82,87,92,96,97], datum.value)]",
  "labelAlign":{"condition":{"test":"indexof([11,33,53,74,96], datum.value) >= 0","value":"left"},"value":"center"},
  "labelOverlap":false,"labelBound":false,"labelFlush":false,"ticks":false,"domain":false,"grid":false,"labelPadding":3,"labelFontSize":8,"labelLineHeight":13,"labelColor":"#000"}}}},
{"data":{"name":"days"},"mark":{"type":"rule","stroke":"#ff55ff","strokeWidth":1},
 "encoding":{"x":{"field":"i","type":"quantitative","scale":{"domain":[-4.87,141.8],"nice":false,"zero":false},"axis":null},
 "y":{"field":"hist","type":"quantitative","scale":{"domain":[-0.242,0.848],"nice":false,"zero":false},
  "axis":{"orient":"right","values":[0.44],"labels":false,"grid":true,"gridColor":"#666","gridDash":[1,2],"ticks":false,"domainColor":"#222"}},
 "y2":{"datum":0}}},
{"data":{"values":[{}]},"mark":{"type":"rule","stroke":"#111","strokeWidth":1},
 "encoding":{"y":{"datum":0,"type":"quantitative","scale":{"domain":[-0.242,0.848],"nice":false,"zero":false},"axis":null}}},
{"data":{"name":"macd"},"mark":{"type":"line","strokeWidth":1.2,"interpolate":"monotone","clip":true},
 "encoding":{"x":{"field":"i","type":"quantitative","scale":{"domain":[-4.87,141.8],"nice":false,"zero":false},"axis":null},
 "y":{"field":"v","type":"quantitative","scale":{"domain":[-0.242,0.848],"nice":false,"zero":false},"axis":null},
 "color":{"field":"s","type":"nominal","scale":{"domain":["macd","signal"],"range":["#3c3cf0","#f03c3c"]},"legend":null}}},
{"data":{"values":[{}]},"mark":{"type":"rule","stroke":"#ff4040","strokeWidth":1},
 "encoding":{"x":{"datum":-2.3,"type":"quantitative","scale":{"domain":[-4.87,141.8],"nice":false,"zero":false},"axis":null}}},
{"data":{"values":[{"t":"MACD(12,26,9,C)"}]},
 "mark":{"type":"text","align":"left","baseline":"middle","fontSize":7.5,"fontWeight":"bold","color":"#2b2bb0"},
 "encoding":{"x":{"datum":-4.6,"type":"quantitative","scale":{"domain":[-4.87,141.8],"nice":false,"zero":false},"axis":null},
 "y":{"datum":0.7,"type":"quantitative","scale":{"domain":[-0.242,0.848],"nice":false,"zero":false},"axis":null},
 "text":{"field":"t"}}},
{"data":{"name":"ctags"},"mark":{"type":"rule","strokeWidth":12},
 "encoding":{"x":{"datum":141.95,"type":"quantitative","scale":{"domain":[-4.87,141.8],"nice":false,"zero":false},"axis":null},"x2":{"datum":146.3},
 "y":{"field":"v","type":"quantitative","scale":{"domain":[-0.242,0.848],"nice":false,"zero":false},"axis":null},
 "color":{"field":"k","type":"nominal","scale":{"domain":["macd","signal","hist"],"range":["#2a2aee","#ee1c1c","#ff33ff"]},"legend":null}}},
{"data":{"name":"ctags"},"mark":{"type":"text","align":"left","baseline":"middle","fontSize":6.5,"color":"white"},
 "encoding":{"x":{"datum":142.1,"type":"quantitative","scale":{"domain":[-4.87,141.8],"nice":false,"zero":false},"axis":null},
 "y":{"field":"v","type":"quantitative","scale":{"domain":[-0.242,0.848],"nice":false,"zero":false},"axis":null},
 "text":{"field":"label"}}}
]
}
]
}
